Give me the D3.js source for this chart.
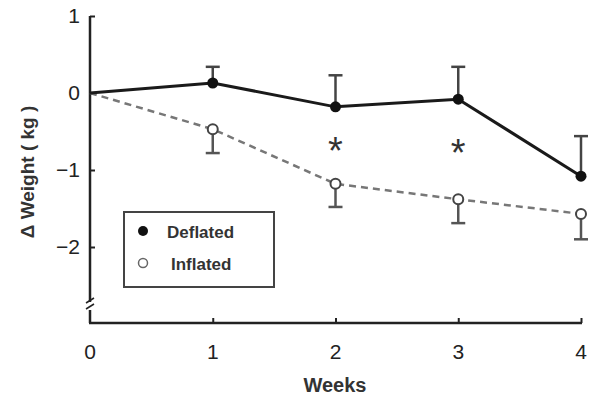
<!DOCTYPE html>
<html><head><meta charset="utf-8">
<script src="https://cdn.jsdelivr.net/npm/d3@7"></script>
<style>body{margin:0;background:#fff}svg{display:block}text{font-family:"Liberation Sans",Arial,sans-serif}</style>
</head><body>
<svg id="c" width="600" height="410"></svg>
<script>
const weeks = [0, 1, 2, 3, 4];
const deflated = [0, 0.13, -0.18, -0.08, -1.08];
const deflatedErr = [0, 0.21, 0.41, 0.42, 0.52];
const inflated = [0, -0.47, -1.18, -1.38, -1.57];
const inflatedErr = [0, 0.31, 0.30, 0.31, 0.33];
const starWeeks = [2, 3];
const starY = [-0.67, -0.7];
const xTicks = [0, 1, 2, 3, 4];
const yTicks = [1, 0, -1, -2];

const svg = d3.select("#c");
const x = d3.scaleLinear().domain([0, 4]).range([90, 581]);
const y = d3.scaleLinear().domain([0, -2]).range([93, 247]);
const axisBottom = 323;
const ink = "#222";

const g = svg.append("g");
g.append("line").attr("x1", 90).attr("x2", 90).attr("y1", y(1)).attr("y2", 302).attr("stroke", ink).attr("stroke-width", 2.5);
g.append("line").attr("x1", 90).attr("x2", 90).attr("y1", 310).attr("y2", axisBottom).attr("stroke", ink).attr("stroke-width", 2.5);
[0, 6].forEach(o => {
  g.append("line").attr("x1", 86).attr("x2", 94).attr("y1", 303 + o).attr("y2", 298 + o).attr("stroke", ink).attr("stroke-width", 1.5);
});
g.append("line").attr("x1", 89).attr("x2", x(4) + 1).attr("y1", axisBottom).attr("y2", axisBottom).attr("stroke", ink).attr("stroke-width", 2.5);

const yAxis = d3.axisRight(y).tickValues(yTicks).tickSize(5).tickFormat("");
const ya = svg.append("g").attr("transform", "translate(90,0)").call(yAxis);
ya.select(".domain").remove();
ya.selectAll("line").attr("stroke", ink).attr("stroke-width", 2);
yTicks.forEach(v => {
  svg.append("text").attr("x", 80).attr("y", y(v) + 7).attr("text-anchor", "end")
    .attr("font-size", 21).attr("fill", ink).text(v < 0 ? "\u2212" + Math.abs(v) : v);
});
const xAxis = d3.axisTop(x).tickValues(xTicks.slice(1)).tickSize(5).tickFormat("");
const xa = svg.append("g").attr("transform", `translate(0,${axisBottom})`).call(xAxis);
xa.select(".domain").remove();
xa.selectAll("line").attr("stroke", ink).attr("stroke-width", 2);
xTicks.forEach(v => {
  svg.append("text").attr("x", x(v)).attr("y", 359).attr("text-anchor", "middle")
    .attr("font-size", 21).attr("fill", ink).text(v);
});

svg.append("text").attr("x", 335).attr("y", 392).attr("text-anchor", "middle")
  .attr("font-size", 20).attr("font-weight", "bold").attr("fill", "#333").text("Weeks");
svg.append("text").attr("transform", "translate(34,172) rotate(-90)").attr("text-anchor", "middle")
  .attr("font-size", 19).attr("font-weight", "bold").attr("fill", "#333").text("\u0394 Weight ( kg )");

function errBars(vals, errs, dir, color) {
  vals.forEach((v, i) => {
    if (errs[i] === 0) return;
    const y2 = v + dir * errs[i];
    svg.append("line").attr("x1", x(weeks[i])).attr("x2", x(weeks[i])).attr("y1", y(v)).attr("y2", y(y2)).attr("stroke", color).attr("stroke-width", 2.5);
    svg.append("line").attr("x1", x(weeks[i]) - 7).attr("x2", x(weeks[i]) + 7).attr("y1", y(y2)).attr("y2", y(y2)).attr("stroke", color).attr("stroke-width", 2.5);
  });
}
errBars(deflated, deflatedErr, 1, "#444");
errBars(inflated, inflatedErr, -1, "#555");

const line = d3.line().x((d, i) => x(weeks[i])).y(d => y(d));
svg.append("path").attr("d", line(inflated)).attr("fill", "none").attr("stroke", "#777").attr("stroke-width", 2.5).attr("stroke-dasharray", "7,5");
svg.append("path").attr("d", line(deflated)).attr("fill", "none").attr("stroke", "#1a1a1a").attr("stroke-width", 3);

svg.selectAll(".inf").data(inflated.slice(1)).enter().append("circle")
  .attr("cx", (d, i) => x(weeks[i + 1])).attr("cy", d => y(d)).attr("r", 5)
  .attr("fill", "#fff").attr("stroke", "#444").attr("stroke-width", 2);
svg.selectAll(".def").data(deflated.slice(1)).enter().append("circle")
  .attr("cx", (d, i) => x(weeks[i + 1])).attr("cy", d => y(d)).attr("r", 5.5)
  .attr("fill", "#111");

starWeeks.forEach((w, i) => {
  svg.append("text").attr("x", x(w)).attr("y", y(starY[i]) + 19).attr("text-anchor", "middle")
    .attr("font-size", 38).attr("fill", "#333").text("*");
});

svg.append("rect").attr("x", 124).attr("y", 212).attr("width", 150).attr("height", 75)
  .attr("fill", "#fff").attr("stroke", "#444").attr("stroke-width", 2);
svg.append("circle").attr("cx", 143).attr("cy", 231).attr("r", 5).attr("fill", "#111");
svg.append("circle").attr("cx", 143).attr("cy", 263).attr("r", 4.5).attr("fill", "#fff").attr("stroke", "#666").attr("stroke-width", 1.5);
svg.append("text").attr("x", 167).attr("y", 238).attr("font-size", 17).attr("font-weight", "bold").attr("fill", "#333").text("Deflated");
svg.append("text").attr("x", 171).attr("y", 270).attr("font-size", 17).attr("font-weight", "bold").attr("fill", "#333").text("Inflated");
</script>
</body></html>
